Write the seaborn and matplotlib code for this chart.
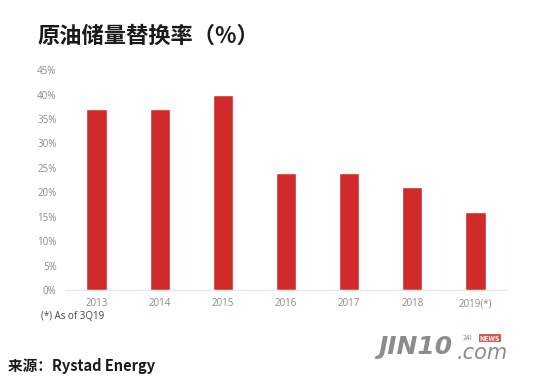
import matplotlib
matplotlib.use("Agg")
import matplotlib.pyplot as plt
import seaborn as sns
import pandas as pd

years = ['2013', '2014', '2015', '2016', '2017', '2018', '2019(*)']
rate = [37, 37, 40, 24, 24, 21, 16]
yticks = [0, 5, 10, 15, 20, 25, 30, 35, 40, 45]

df = pd.DataFrame({'year': years, 'rate': rate})

sns.set_style('white')
plt.rcParams['font.family'] = ['Noto Sans CJK SC', 'DejaVu Sans']

fig = plt.figure(figsize=(5.5, 3.79), dpi=100)
ax = fig.add_axes([0.118, 0.235, 0.804, 0.58])

sns.barplot(data=df, x='year', y='rate', color='#d12a2a', width=0.32,
            saturation=1, ax=ax)

ax.set_ylim(0, 45)
ax.set_xlim(-0.5, 6.5)
ax.set_yticks(yticks)
ax.set_yticklabels([f'{v}%' for v in yticks])
ax.set_xlabel('')
ax.set_ylabel('')
ax.tick_params(axis='both', length=0, labelsize=7, labelcolor='#8a8a8a',
               pad=6)
for s in ['top', 'right', 'left']:
    ax.spines[s].set_visible(False)
ax.spines['bottom'].set_color('#e6e6e6')
ax.spines['bottom'].set_linewidth(0.8)

for lbl in ax.get_yticklabels() + ax.get_xticklabels():
    lbl.set_family(['Open Sans', 'DejaVu Sans'])

fig.text(0.068, 0.905, '原油储量替换率（%）', fontsize=16, fontweight='bold',
         color='#1a1a1a', va='center')
fig.text(0.075, 0.165, '(*) As of 3Q19', fontsize=7, color='#444444',
         va='center', family=['Open Sans', 'DejaVu Sans'])
fig.text(0.015, 0.035, '来源：Rystad Energy', fontsize=10.5, fontweight='bold',
         color='#1a1a1a', va='center')

# watermark logo
fig.text(0.687, 0.085, 'JIN10', fontsize=18, fontweight='bold', style='italic',
         color='#8c8c8c', va='center', family=['DejaVu Sans'])
fig.text(0.83, 0.068, '.com', fontsize=15, style='italic', color='#8c8c8c',
         va='center', family=['DejaVu Sans'])
fig.text(0.842, 0.108, '24I', fontsize=5, color='#8c8c8c', va='center')
fig.text(0.872, 0.108, 'NEWS', fontsize=5, fontweight='bold', color='white',
         va='center', bbox=dict(facecolor='#e0554b', edgecolor='none', pad=0.5))

fig.savefig('out.png', dpi=100)
